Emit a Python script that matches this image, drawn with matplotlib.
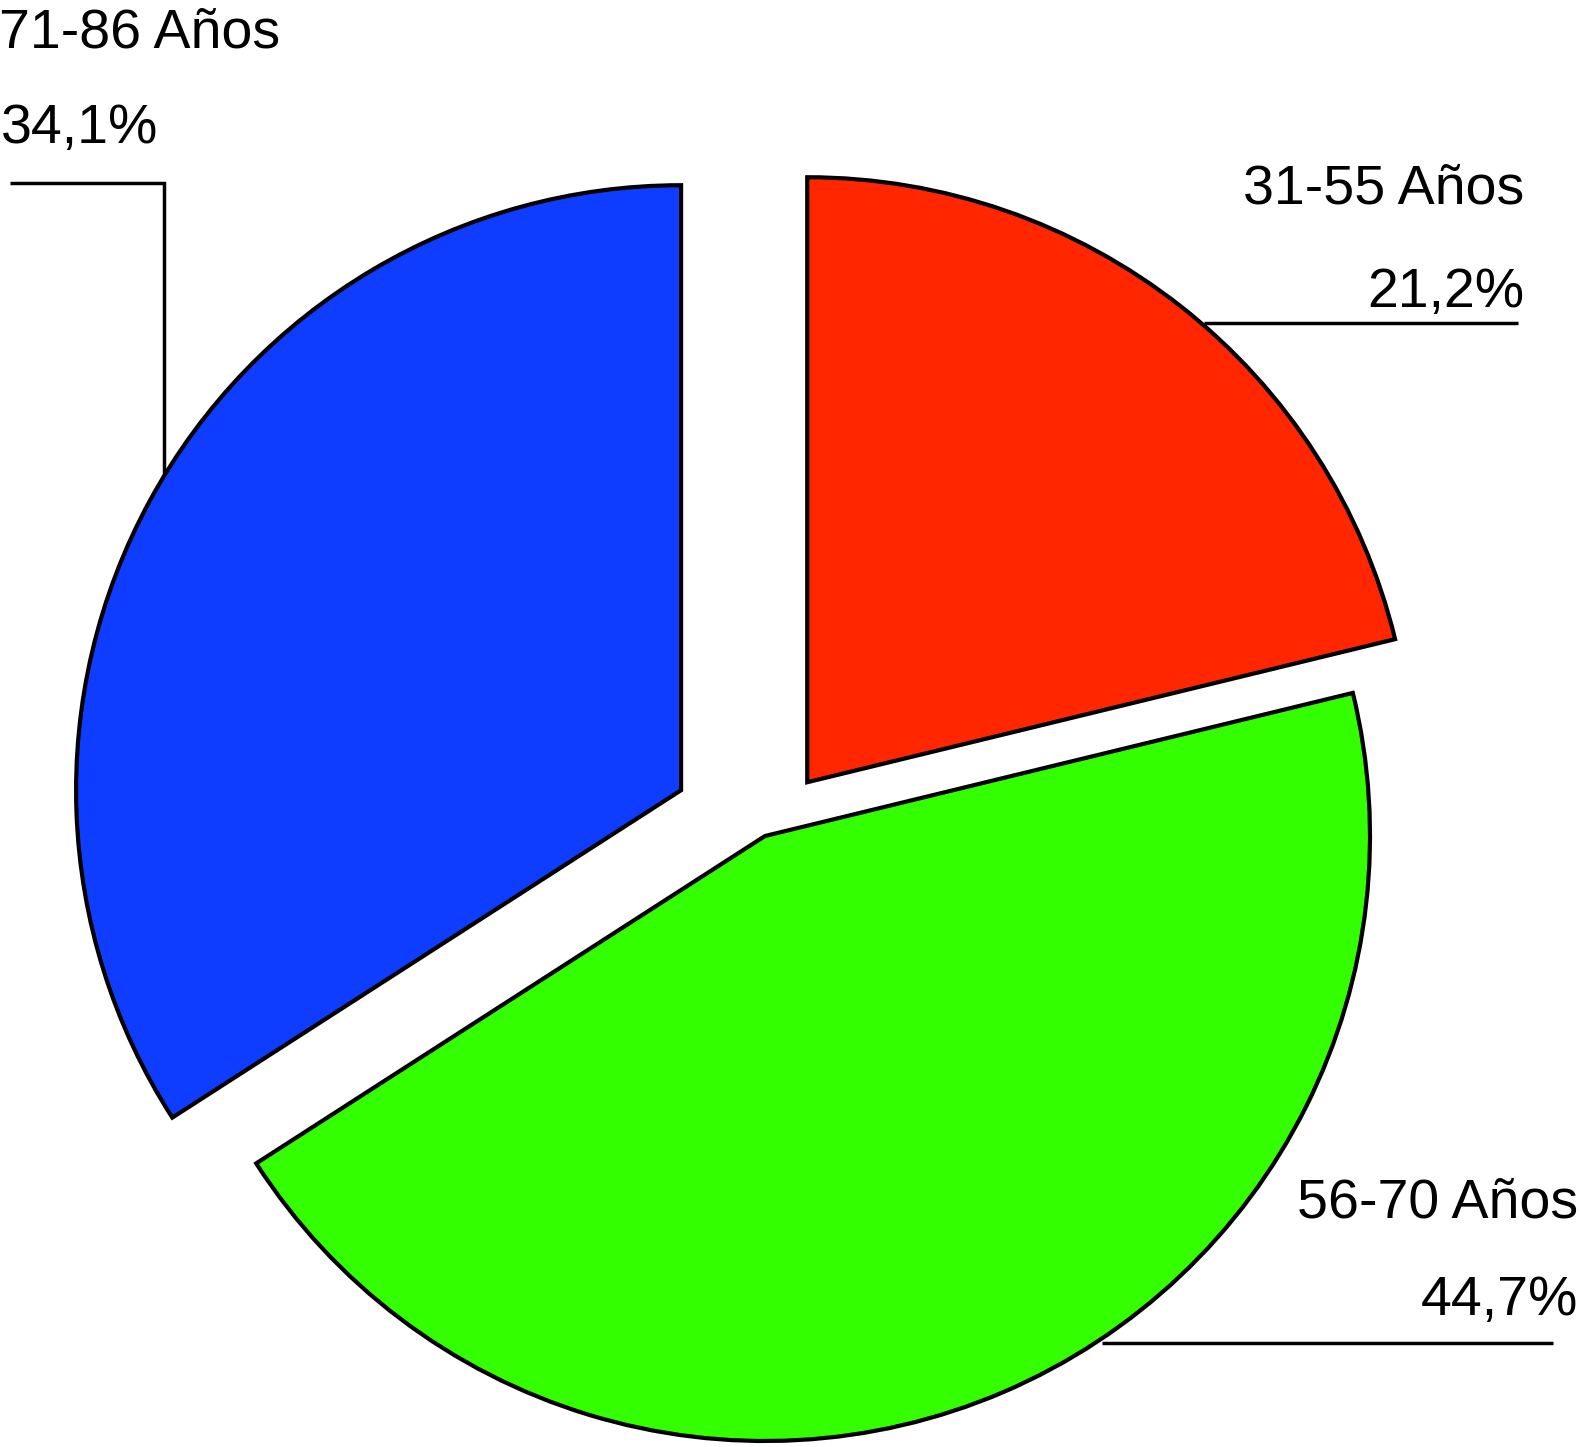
import numpy as np
import matplotlib.pyplot as plt

labels = ['31-55 Años', '56-70 Años', '71-86 Años']
pcts = [21.2, 44.7, 34.1]
pct_txt = ['21,2%', '44,7%', '34,1%']
colors = ['#ff2600', '#33ff00', '#0f3dff']
explode = [0.113, 0.0, 0.158]

W, H = 1580, 1447
cx, cy, R = 765, 836, 605   # pie centre / radius in pixels

def px(x, y):
    # pixel -> data coords (axes fills the whole figure, radius 1)
    return (x - cx) / R, (cy - y) / R

plt.rcParams['font.family'] = ['Liberation Sans', 'DejaVu Sans']
fig = plt.figure(figsize=(W / 100, H / 100), dpi=100)
ax = fig.add_axes([0, 0, 1, 1])
ax.axis('off')

wedges, _ = ax.pie(pcts, colors=colors, explode=explode, startangle=90,
                   counterclock=False, radius=1,
                   wedgeprops=dict(edgecolor='black', linewidth=3.0, joinstyle='miter'))

x0, y0 = px(0, 0)
x1, y1 = px(W, H)
ax.set_xlim(x0, x1)
ax.set_ylim(y1, y0)
ax.set_aspect('equal')
ax.set_ylim(y1, y0)
ax.set_autoscale_on(False)

fs = 40
lw = 2.5

def arc_pt(w, ang):
    c = np.array(w.center)
    a = np.deg2rad(ang)
    return c + w.r * np.array([np.cos(a), np.sin(a)])

# red slice label (right, top)
p = arc_pt(wedges[0], 49)
_, ly = px(0, 323)
xe, _ = px(1518, 0)
ax.plot([p[0], xe], [ly, ly], color='black', lw=lw, solid_capstyle='butt')
tx, ty = px(1524, 203)
ax.text(tx, ty, labels[0], fontsize=fs, ha='right', va='baseline')
tx, ty = px(1524, 307)
ax.text(tx, ty, pct_txt[0], fontsize=fs, ha='right', va='baseline')

# green slice label (right, bottom)
p = arc_pt(wedges[1], -56.2)
_, ly = px(0, 1343)
xe, _ = px(1553, 0)
ax.plot([p[0], xe], [ly, ly], color='black', lw=lw, solid_capstyle='butt')
tx, ty = px(1578, 1218)
ax.text(tx, ty, labels[1], fontsize=fs, ha='right', va='baseline')
tx, ty = px(1578, 1315)
ax.text(tx, ty, pct_txt[1], fontsize=fs, ha='right', va='baseline')

# blue slice label (left, top) with elbow
p = arc_pt(wedges[2], 148.7)
_, ly = px(0, 183)
xe, _ = px(10, 0)
ax.plot([p[0], p[0], xe], [p[1], ly, ly], color='black', lw=lw,
        solid_capstyle='butt', solid_joinstyle='miter')
tx, ty = px(-1, 48)
ax.text(tx, ty, labels[2], fontsize=fs, ha='left', va='baseline')
tx, ty = px(1, 143)
ax.text(tx, ty, pct_txt[2], fontsize=fs, ha='left', va='baseline')

fig.savefig('out.png', dpi=100, facecolor='white')
